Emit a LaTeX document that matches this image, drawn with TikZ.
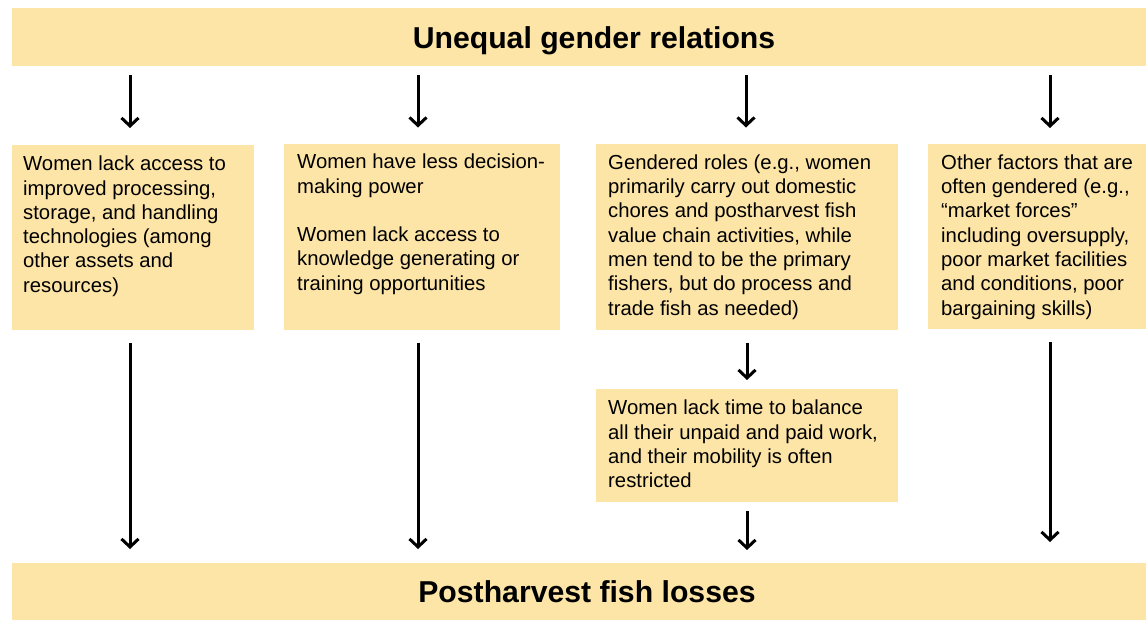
\documentclass[tikz,border=0pt]{standalone}
\usepackage{fontspec}
\setmainfont{Liberation Sans}
\usetikzlibrary{arrows.meta}
\definecolor{boxfill}{RGB}{253,229,167}
\newcommand{\firstline}{\rule{0pt}{16pt}}
\begin{document}
\begin{tikzpicture}[x=1pt,y=-1pt,
  panel/.style={fill=boxfill, draw=none, rectangle, inner sep=0pt, outer sep=0pt, anchor=north west},
  body/.style={anchor=north west, inner sep=0pt, align=left, font=\fontsize{20.3}{24.3}\selectfont},
  heading/.style={anchor=base, inner sep=0pt, font=\fontsize{30.2}{34}\selectfont\bfseries},
  arr/.style={line width=3pt, -{Straight Barb[length=8pt,width=17pt]}}]
\useasboundingbox (0,0) rectangle (1146,619);
% bars
\node[panel, minimum width=1166pt, minimum height=58pt] (top) at (12,8) {};
\node[heading] (toptext) at (594,48) {Unequal gender relations};
\node[panel, minimum width=1166pt, minimum height=60pt] (bottom) at (12,563) {};
\node[heading] (bottomtext) at (587,602) {Postharvest fish losses};
% boxes
\node[panel, minimum width=242pt, minimum height=185pt] (b1) at (12,145) {};
\node[panel, minimum width=276pt, minimum height=186pt] (b2) at (284,143.5) {};
\node[panel, minimum width=302pt, minimum height=186pt] (b3) at (596,143.5) {};
\node[panel, minimum width=244pt, minimum height=185pt] (b4) at (928,144) {};
\node[panel, minimum width=302pt, minimum height=113pt] (b5) at (596,389) {};
% texts (first baseline = given y + 16)
\node[body] (t1) at (23,154.5) {\firstline Women lack access to\\improved processing,\\storage, and handling\\technologies (among\\other assets and\\resources)};
\node[body] (t2) at (297,152.5) {\firstline Women have less decision-\\making power\\[24.3pt]Women lack access to\\knowledge generating or\\training opportunities};
\node[body] (t3) at (608,153) {\firstline Gendered roles (e.g., women\\primarily carry out domestic\\chores and postharvest fish\\value chain activities, while\\men tend to be the primary\\fishers, but do process and\\trade fish as needed)};
\node[body] (t4) at (941,153) {\firstline Other factors that are\\often gendered (e.g.,\\“market forces”\\including oversupply,\\poor market facilities\\and conditions, poor\\bargaining skills)};
\node[body] (t5) at (608,398.5) {\firstline Women lack time to balance\\all their unpaid and paid work,\\and their mobility is often\\restricted};
% arrows from top bar
\draw[arr, shorten <=9pt, shorten >=17pt] (top.south -| 130,0) -- (b1.north -| 130,0);
\draw[arr, shorten <=9pt, shorten >=16pt] (top.south -| 418,0) -- (b2.north -| 418,0);
\draw[arr, shorten <=9pt, shorten >=16pt] (top.south -| 746,0) -- (b3.north -| 746,0);
\draw[arr, shorten <=9pt, shorten >=16pt] (top.south -| 1050,0) -- (b4.north -| 1050,0);
% arrows to bottom bar
\draw[arr, shorten <=13pt, shorten >=14pt] (b1.south -| 130,0) -- (bottom.north -| 130,0);
\draw[arr, shorten <=13pt, shorten >=14pt] (b2.south -| 418,0) -- (bottom.north -| 418,0);
\draw[arr, shorten <=13pt, shorten >=9pt] (b3.south -| 747,0) -- (b5.north -| 747,0);
\draw[arr, shorten <=9pt, shorten >=13pt] (b5.south -| 747,0) -- (bottom.north -| 747,0);
\draw[arr, shorten <=13pt, shorten >=21pt] (b4.south -| 1050,0) -- (bottom.north -| 1050,0);
\end{tikzpicture}
\end{document}
